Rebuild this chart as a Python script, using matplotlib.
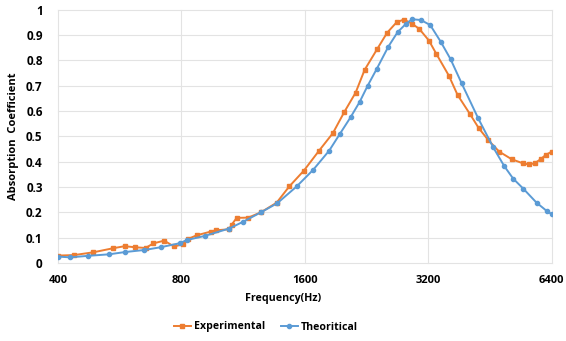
import matplotlib
matplotlib.use("Agg")
import matplotlib.pyplot as plt
from matplotlib.ticker import FixedLocator, FixedFormatter, NullLocator

# data
exp_freq = [400, 438, 488, 545, 581, 616, 654, 683, 726, 767, 805, 828, 871, 944, 971,
            1046, 1060, 1091, 1164, 1250, 1365, 1465, 1591, 1731, 1872, 1995, 2127,
            2237, 2400, 2539, 2677, 2789, 2921, 3040, 3209, 3349, 3590, 3769, 4039,
            4248, 4476, 4760, 5105, 5431, 5626, 5818, 6007, 6188, 6400]
exp_alpha = [0.029, 0.031, 0.042, 0.058, 0.066, 0.062, 0.059, 0.077, 0.088, 0.065,
             0.073, 0.094, 0.109, 0.124, 0.129, 0.133, 0.151, 0.178, 0.179, 0.200,
             0.238, 0.302, 0.365, 0.443, 0.513, 0.596, 0.673, 0.763, 0.845, 0.910,
             0.951, 0.962, 0.945, 0.925, 0.879, 0.825, 0.740, 0.664, 0.589, 0.532,
             0.486, 0.440, 0.410, 0.394, 0.389, 0.394, 0.410, 0.427, 0.440]

th_freq = [400, 428, 474, 533, 583, 649, 712, 793, 823, 913, 1046, 1132, 1250, 1370,
           1527, 1676, 1834, 1947, 2068, 2175, 2275, 2393, 2556, 2692, 2821, 2921,
           3068, 3233, 3427, 3625, 3856, 4231, 4604, 4897, 5151, 5448, 5874, 6212, 6400]
th_alpha = [0.025, 0.022, 0.028, 0.034, 0.043, 0.051, 0.062, 0.078, 0.090, 0.107,
            0.136, 0.163, 0.200, 0.236, 0.302, 0.368, 0.444, 0.510, 0.576, 0.636,
            0.700, 0.766, 0.855, 0.912, 0.945, 0.963, 0.960, 0.940, 0.875, 0.805,
            0.710, 0.572, 0.457, 0.383, 0.333, 0.294, 0.238, 0.206, 0.192]

x_ticks = [400, 800, 1600, 3200, 6400]
y_ticks = [0, 0.1, 0.2, 0.3, 0.4, 0.5, 0.6, 0.7, 0.8, 0.9, 1]
y_labels = ["0", "0.1", "0.2", "0.3", "0.4", "0.5", "0.6", "0.7", "0.8", "0.9", "1"]

plt.rcParams['font.family'] = ['Open Sans', 'DejaVu Sans']

fig = plt.figure(figsize=(5.66, 3.41), dpi=100)
ax = fig.add_axes([0.1025, 0.229, 0.8725, 0.742])

orange = "#ED7D31"
blue = "#5B9BD5"

ax.plot(exp_freq, exp_alpha, color=orange, marker="s", markersize=3.0, lw=1.4,
        label="Experimental", zorder=3)
ax.plot(th_freq, th_alpha, color=blue, marker="o", markersize=3.0, lw=1.4,
        label="Theoritical", zorder=3)

ax.set_xscale("log", base=2)
ax.set_xlim(400, 6400)
ax.set_ylim(0, 1)
ax.xaxis.set_major_locator(FixedLocator(x_ticks))
ax.xaxis.set_major_formatter(FixedFormatter([str(t) for t in x_ticks]))
ax.xaxis.set_minor_locator(NullLocator())
ax.yaxis.set_major_locator(FixedLocator(y_ticks))
ax.yaxis.set_major_formatter(FixedFormatter(y_labels))

for s in ax.spines.values():
    s.set_visible(False)
ax.grid(False)
for t in x_ticks:
    ax.axvline(t, color="#E3E3E3", lw=0.8, zorder=0, clip_on=False)
for t in y_ticks:
    ax.axhline(t, color="#E3E3E3", lw=0.8, zorder=0, clip_on=False)
ax.tick_params(length=0, colors="#000000")
ax.tick_params(axis="x", pad=9, labelsize=8)
ax.tick_params(axis="y", pad=11, labelsize=8.5)
for lab in ax.get_xticklabels() + ax.get_yticklabels():
    lab.set_fontweight("bold")

ax.set_ylabel("Absorption  Coefficient", fontsize=8, fontweight="bold", labelpad=5)
fig.text(283 / 566, 1 - 299 / 341, "Frequency(Hz)", ha="center", va="center",
         fontsize=7.7, fontweight="bold")

fig.legend(loc="center", bbox_to_anchor=(266 / 566, 1 - 327 / 341), ncol=2,
           frameon=False, prop={"weight": "bold", "size": 7.6},
           handlelength=1.6, handletextpad=0.3, columnspacing=1.5)

fig.savefig("out.png", dpi=100)
